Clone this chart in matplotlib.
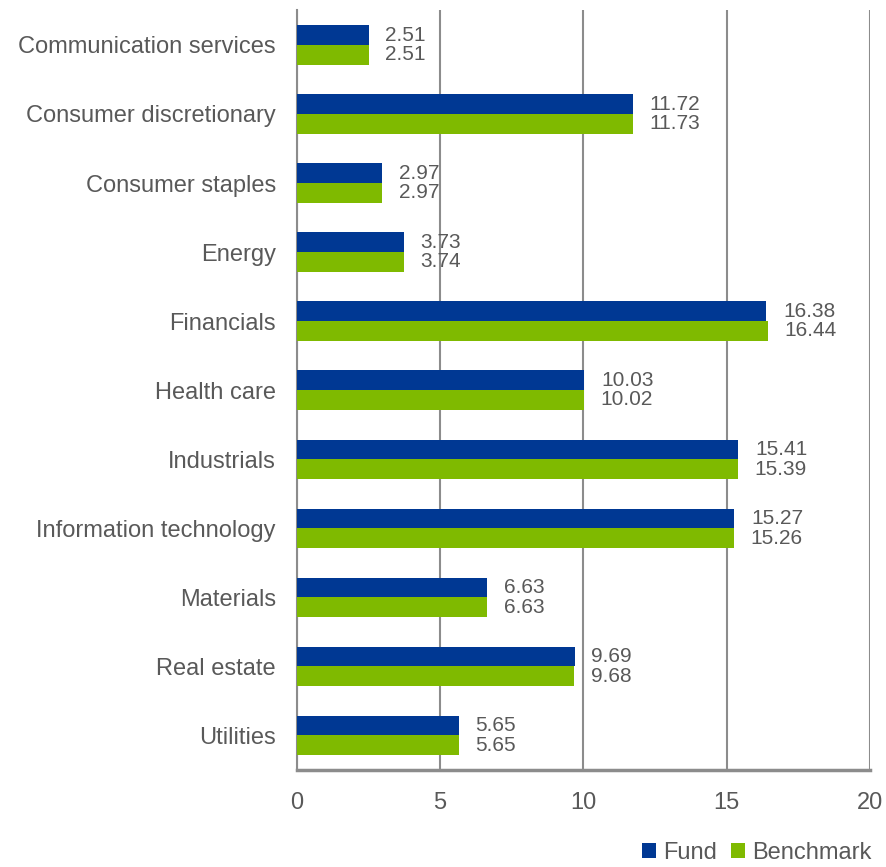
import matplotlib
matplotlib.use("Agg")
import matplotlib.pyplot as plt
import numpy as np

categories = ["Communication services", "Consumer discretionary", "Consumer staples",
              "Energy", "Financials", "Health care", "Industrials",
              "Information technology", "Materials", "Real estate", "Utilities"]
fund = [2.51, 11.72, 2.97, 3.73, 16.38, 10.03, 15.41, 15.27, 6.63, 9.69, 5.65]
benchmark = [2.51, 11.73, 2.97, 3.74, 16.44, 10.02, 15.39, 15.26, 6.63, 9.68, 5.65]
xticks = [0, 5, 10, 15, 20]

plt.rcParams['font.family'] = ['Liberation Sans', 'DejaVu Sans']
TXT = "#595959"
FUND_C = "#003893"
BENCH_C = "#7FBA00"
GRID_C = "#8C8C8C"

fig = plt.figure(figsize=(8.86, 8.67), dpi=100)
ax = fig.add_axes([0.335, 0.112, 0.647, 0.876])

y = np.arange(len(categories))
h = 0.285
ax.barh(y - h / 2, fund, height=h, color=FUND_C, label="Fund", zorder=3)
ax.barh(y + h / 2, benchmark, height=h, color=BENCH_C, label="Benchmark", zorder=3)

for i, (f, b) in enumerate(zip(fund, benchmark)):
    ax.annotate(f"{f:.2f}", (f, i - h / 2), xytext=(12, 0), textcoords="offset points",
                va="center", ha="left", fontsize=15, color=TXT)
    ax.annotate(f"{b:.2f}", (b, i + h / 2), xytext=(12, 0), textcoords="offset points",
                va="center", ha="left", fontsize=15, color=TXT)

ax.set_xlim(0, 20)
ax.set_ylim(len(categories) - 0.5, -0.5)
ax.set_xticks(xticks)
ax.set_xticklabels([str(t) for t in xticks])
ax.set_yticks(y)
ax.set_yticklabels(categories)
ax.tick_params(axis="x", length=0, pad=16, labelsize=17, labelcolor=TXT)
ax.tick_params(axis="y", length=0, pad=15, labelsize=17, labelcolor=TXT)

ax.xaxis.grid(True, color=GRID_C, linewidth=1.5, zorder=0)
ax.set_axisbelow(True)
for s in ["top", "right"]:
    ax.spines[s].set_visible(False)
ax.spines["left"].set_color(GRID_C)
ax.spines["left"].set_linewidth(1.5)
ax.spines["bottom"].set_color(GRID_C)
ax.spines["bottom"].set_linewidth(2.5)

fig.legend(loc="lower right", bbox_to_anchor=(1.0, -0.013), ncol=2, frameon=False,
           fontsize=17, labelcolor=TXT, handlelength=0.6, handleheight=0.6,
           handletextpad=0.3, columnspacing=0.6, borderaxespad=0.2)

fig.savefig("out.png", dpi=100)
